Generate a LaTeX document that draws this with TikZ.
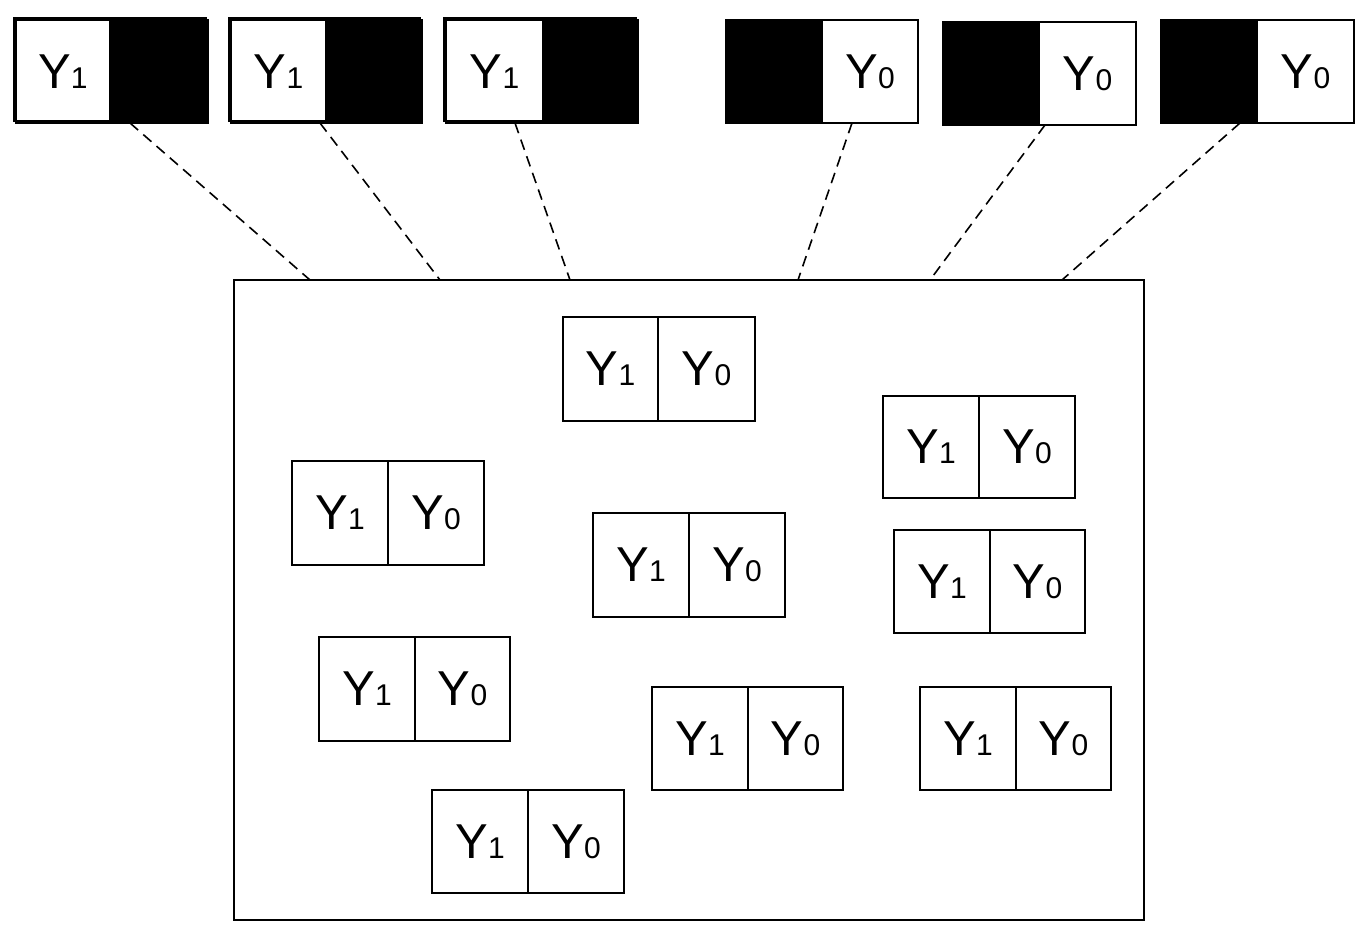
\documentclass[tikz,border=0pt]{standalone}
\usepackage{fontspec}
\setmainfont{Liberation Sans}
\usetikzlibrary{calc}

% Labels: a large Y followed by a smaller digit on the same baseline
\newcommand\ylabel[1]{{\fontsize{24.5}{24.5}\selectfont Y}{\fontsize{15}{15}\selectfont #1}}
\newcommand\yone{\ylabel{1}}
\newcommand\yzero{\ylabel{0}}

\tikzset{
  cell/.style={draw, line width=0.9pt, anchor=north west, inner sep=0pt, outer sep=0pt},
  filled/.style={cell, fill=black},
  frame/.style={draw, line width=0.9pt, anchor=north west, inner sep=0pt, outer sep=0pt},
  backline/.style={line width=0.9pt},
  link/.style={line width=0.8pt, dash pattern=on 5.4pt off 3.4pt},
}

% Two side-by-side halves: name, x0, xdiv, x1, y0, y1, left style, right style, which texts
\newcommand\halves[9]{%
  \def\lefttext{}\def\righttext{}%
  \ifcase#9\relax
    \def\lefttext{\yone}\def\righttext{\yzero}\or
    \def\lefttext{\yone}\or
    \def\righttext{\yzero}\fi
  \node[#7, minimum width={(#3-#2)*0.5pt}, minimum height={(#6-#5)*0.5pt}] (#1l) at (#2,#5) {\lefttext};
  \node[#8, minimum width={(#4-#3)*0.5pt}, minimum height={(#6-#5)*0.5pt}] (#1r) at (#3,#5) {\righttext};
}
\newcommand\pairbox[6]{\halves{#1}{#2}{#3}{#4}{#5}{#6}{cell}{cell}{0}}
\newcommand\onlyone[6]{\halves{#1}{#2}{#3}{#4}{#5}{#6}{cell}{filled}{1}}
\newcommand\onlyzero[6]{\halves{#1}{#2}{#3}{#4}{#5}{#6}{filled}{cell}{2}}

\begin{document}
\begin{tikzpicture}[x=0.5pt, y=-0.5pt]
  \useasboundingbox (0,0) rectangle (1370,952);

  % slightly offset outlines behind the first three top boxes
  \draw[backline] (14,18) rectangle (206,121);
  \draw[backline] (229,18) rectangle (420,121);
  \draw[backline] (444,18) rectangle (636,121);

  % top row: one half known, the other blacked out
  \onlyone{t1}{16}{110}{208}{20}{123}
  \onlyone{t2}{231}{326}{422}{20}{123}
  \onlyone{t3}{446}{543}{638}{20}{123}
  \onlyzero{t4}{726}{822}{918}{20}{123}
  \onlyzero{t5}{943}{1039}{1136}{22}{125}
  \onlyzero{t6}{1161}{1257}{1354}{20}{123}

  % population frame
  \node[frame, minimum width={(1144-234)*0.5pt}, minimum height={(920-280)*0.5pt}] (pop) at (234,280) {};

  % complete units inside the frame
  \pairbox{a}{563}{658}{755}{317}{421}
  \pairbox{b}{883}{979}{1075}{396}{498}
  \pairbox{c}{292}{388}{484}{461}{565}
  \pairbox{d}{593}{689}{785}{513}{617}
  \pairbox{e}{894}{990}{1085}{530}{633}
  \pairbox{f}{319}{415}{510}{637}{741}
  \pairbox{g}{652}{748}{843}{687}{790}
  \pairbox{h}{920}{1016}{1111}{687}{790}
  \pairbox{i}{432}{528}{624}{790}{893}

  % dashed links from each top box to the frame
  \draw[link] ([xshift=10pt]t1r.south west) -- ([xshift=38pt]pop.north west);
  \draw[link] ([xshift=-3pt]t2l.south east) -- ([xshift=103pt]pop.north west);
  \draw[link] ([xshift=-14pt]t3l.south east) -- ([xshift=168pt]pop.north west);
  \draw[link] ([xshift=15pt]t4r.south west) -- ([xshift=282pt]pop.north west);
  \draw[link] ([xshift=3pt]t5r.south west) -- ([xshift=348pt]pop.north west);
  \draw[link] ([xshift=-8.5pt]t6l.south east) -- ([xshift=414pt]pop.north west);
\end{tikzpicture}
\end{document}
